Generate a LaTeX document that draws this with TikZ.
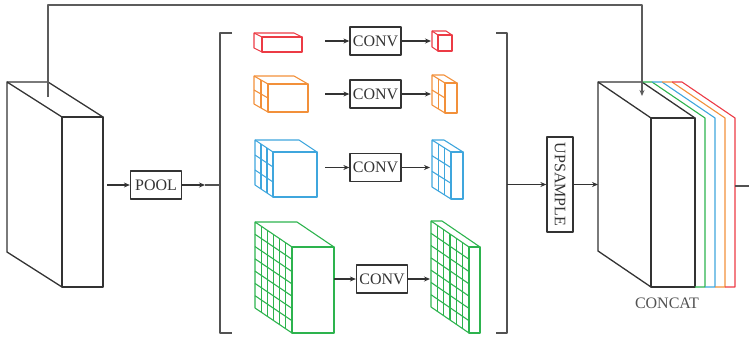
\documentclass[tikz,border=0pt]{standalone}
\usepackage{fontspec}
\setmainfont{Liberation Serif}
\usetikzlibrary{arrows.meta}

\definecolor{cred}{HTML}{EC3B45}
\definecolor{corange}{HTML}{F2903A}
\definecolor{cblue}{HTML}{3FA6DD}
\definecolor{cgreen}{HTML}{2DB34E}
\definecolor{ink}{HTML}{333333}

% Oblique slab: #1 style, (#2,#3) back top-left corner, (#4,#5) depth offset,
% #6 x #7 front face size, #8 columns x #9 rows of cells on the side face
\newcommand{\gridslab}[9]{%
  \begin{scope}[#1]
    \draw (#2+#4,#3+#5) rectangle ++(#6,#7);
    \draw (#2+#4,#3+#5) -- (#2,#3) -- (#2,#3+#7) -- (#2+#4,#3+#5+#7);
    \draw (#2,#3) -- (#2+#6,#3) -- (#2+#4+#6,#3+#5);
    \pgfmathtruncatemacro\ncols{#8-1}%
    \pgfmathtruncatemacro\nrows{#9-1}%
    \ifnum\ncols>0
      \foreach \k in {1,...,\ncols}
        \draw (#2+\k/#8*#4,#3+\k/#8*#5) -- ++(0,#7);
    \fi
    \ifnum\nrows>0
      \foreach \j in {1,...,\nrows}
        \draw (#2,#3+\j/#9*#7) -- (#2+#4,#3+#5+\j/#9*#7);
    \fi
  \end{scope}}

\begin{document}
\begin{tikzpicture}[x=1pt,y=-1pt,line join=round,
  op/.style={draw=ink,line width=1.3pt,text=ink,font=\fontsize{16}{16}\selectfont,
    inner sep=0pt,minimum width=51pt,minimum height=28pt},
  arr/.style={draw=ink,line width=1.1pt,-{Stealth[length=6pt,width=5pt]}},
  link/.style={draw=ink!85,line width=1.1pt},
  cube/.style={draw=#1,line width=1.1pt},
  block/.style={draw=ink,line width=1.3pt}]
\useasboundingbox (0,0) rectangle (749,340);

% input feature map
\gridslab{block}{7}{82}{55}{35}{41}{170}{1}{1}

% pooled maps and their convolved versions
\gridslab{cube=cred}{254}{33}{8}{4}{40}{15}{1}{1}
\gridslab{cube=corange}{254}{76}{14}{8}{40}{28}{2}{2}
\gridslab{cube=cblue}{255}{140}{18}{12}{44}{45}{3}{3}
\gridslab{cube=cgreen}{255}{222}{37}{25}{42}{86}{6}{7}

\gridslab{cube=cred}{432}{31}{6}{4}{14}{16}{1}{1}
\gridslab{cube=corange}{432}{75}{13}{8}{12}{30}{2}{2}
\gridslab{cube=cblue}{432}{140}{19}{12}{12}{47}{3}{3}
\gridslab{cube=cgreen}{431}{221}{38}{26}{11}{86}{6}{7}

% concatenated output
\gridslab{block}{598}{82}{53}{36}{44}{169}{1}{1}
\foreach \c [count=\k] in {cgreen,cblue,corange,cred}
  \draw[\c,line width=1.1pt] (632+10*\k,82) -- (642+10*\k,82) -- (695+10*\k,118)
    -- (695+10*\k,287) -- (685+10*\k,287);

% brackets around the pyramid
\draw[link] (232,33) -- (220,33) -- (220,333) -- (232,333);
\draw[link] (496,33) -- (507,33) -- (507,333) -- (496,333);

% operation boxes
\node[op] (pool) at (156,185) {POOL};
\node[op] (conv1) at (375.5,41) {CONV};
\node[op] (conv2) at (375.5,94) {CONV};
\node[op] (conv3) at (375.5,167.5) {CONV};
\node[op] (conv4) at (382,279) {CONV};
\node[op,minimum width=95pt,minimum height=26pt,rotate=-90] (up) at (560,184.5) {UPSAMPLE};
\node[text=ink!85,font=\fontsize{16}{16}\selectfont] (concat) at (667,303) {CONCAT};

% connection points
\coordinate (inR) at (107,185);
\coordinate (poolhead) at (205,185);
\coordinate (bl) at (220,185);
\coordinate (br) at (507,184.5);
\coordinate (catL) at (598,184.5);
\coordinate (catR) at (735,186);
\coordinate (exit) at (749,186);
\coordinate (skipS) at (48,97);
\coordinate (skipY) at (0,5);
\coordinate (skipE) at (642,96);
\coordinate (a1) at (325,41);   \coordinate (b1) at (431,41);
\coordinate (a2) at (325,94);   \coordinate (b2) at (431,94);
\coordinate (a3) at (325,167.5); \coordinate (b3) at (430,167.5);
\coordinate (a4) at (334,279);  \coordinate (b4) at (430,279);

% connectors
\draw[arr] (inR) -- (pool);
\draw[arr] (pool) -- (poolhead);
\draw[link] (poolhead) -- (bl);
\draw[arr] (br) -- (up);
\draw[arr] (up) -- (catL);
\draw[link] (catR) -- (exit);
\draw[arr,draw=ink!80] (skipS) -- (skipS |- skipY) -| (skipE);
\foreach \i in {1,2,3,4} {
  \draw[arr] (a\i) -- (conv\i);
  \draw[arr] (conv\i) -- (b\i);
}
\end{tikzpicture}
\end{document}
